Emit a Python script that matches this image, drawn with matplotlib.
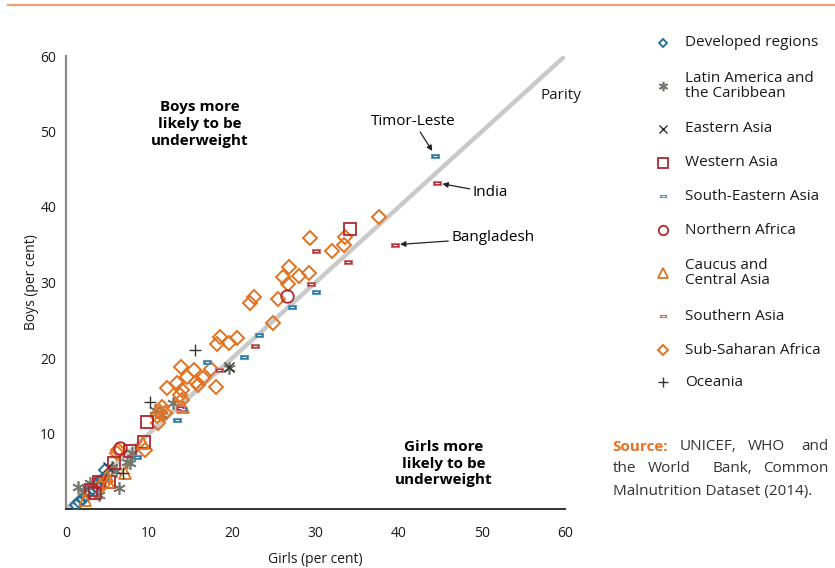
import matplotlib.pyplot as plt
from matplotlib.path import Path

plt.rcParams['font.family'] = ['Open Sans', 'DejaVu Sans']

# data: girls (x) vs boys (y), per cent underweight
dev_x = [1.2, 1.6, 2.0, 2.4, 2.8, 3.2, 3.6, 4.0, 4.4, 4.7]
dev_y = [0.5, 0.9, 1.3, 1.8, 2.3, 2.7, 3.1, 3.6, 4.0, 5.1]

lat_x = [1.4, 2.0, 2.9, 4.0, 6.4, 7.3, 7.7, 7.9, 6.0, 10.7, 11.5, 12.9, 19.6, 5.5]
lat_y = [2.9, 2.2, 3.4, 1.9, 2.8, 6.2, 6.1, 7.4, 5.0, 13.1, 12.4, 14.0, 18.7, 5.5]

eas_x = [19.6, 5.0]
eas_y = [18.8, 5.6]

wes_x = [34.1, 9.7, 9.4, 7.7, 5.8, 4.0, 3.5, 5.2, 3.0]
wes_y = [37.1, 11.5, 8.9, 7.7, 6.1, 3.6, 2.1, 3.6, 2.5]

sea_x = [44.4, 30.0, 27.2, 23.2, 21.4, 16.9, 13.3, 14.1, 8.5]
sea_y = [46.8, 28.7, 26.8, 23.0, 20.1, 19.5, 11.8, 13.2, 6.9]

naf_x = [26.6, 6.5, 4.0]
naf_y = [28.2, 8.1, 3.6]

cca_x = [14.1, 9.3, 7.1, 5.0, 4.9, 2.3]
cca_y = [13.5, 8.7, 4.8, 3.6, 4.4, 1.2]

sas_x = [44.6, 39.5, 30.0, 33.9, 29.4, 22.7, 18.4, 13.7]
sas_y = [43.2, 35.0, 34.2, 32.7, 29.8, 21.6, 18.4, 13.4]

ssa_x = [37.6, 29.3, 33.5, 33.4, 32.0, 26.8, 26.1, 28.0, 29.2, 26.7, 22.6, 22.1,
         25.5, 24.9, 18.5, 18.1, 19.6, 20.6, 17.4, 18.0, 13.8, 15.4, 14.5, 13.3,
         16.5, 12.1, 13.9, 15.9, 15.6, 13.7, 11.5, 11.3, 10.9, 11.9, 11.1, 9.5,
         6.3, 6.1, 4.4, 14.0]
ssa_y = [38.7, 35.9, 36.0, 35.0, 34.2, 32.1, 30.7, 30.9, 31.3, 29.8, 28.1, 27.3,
         27.8, 24.6, 22.8, 21.9, 22.0, 22.6, 18.5, 16.2, 18.8, 18.4, 17.5, 16.7,
         17.4, 16.0, 15.8, 16.4, 16.8, 15.1, 13.5, 12.8, 12.3, 12.7, 11.4, 7.8,
         7.8, 7.4, 3.3, 14.5]

oce_x = [15.5, 10.1, 6.9]
oce_y = [21.1, 14.2, 4.8]

labels = ['Developed regions', 'Latin America and\nthe Caribbean', 'Eastern Asia',
          'Western Asia', 'South-Eastern Asia', 'Northern Africa',
          'Caucus and\nCentral Asia', 'Southern Asia', 'Sub-Saharan Africa', 'Oceania']

BLUE = '#1f6e9a'
GREY = '#77776a'
DARK = '#333333'
RED = '#b0282e'
ORANGE = '#e2721f'

# small flat bar used for the Asia series
bar = Path([(-1, -0.45), (1, -0.45), (1, 0.45), (-1, 0.45), (-1, -0.45)])

styles = [
    dict(marker='D', ms=6, mfc='none', mec=BLUE, mew=1.3),
    dict(marker=(6, 2, 0), ms=9, mfc='none', mec=GREY, mew=1.2),
    dict(marker='x', ms=7, mfc='none', mec=DARK, mew=1.0),
    dict(marker='s', ms=9, mfc='none', mec=RED, mew=1.3),
    dict(marker=bar, ms=6, mfc=BLUE, mec='#5a9cc0', mew=0.8),
    dict(marker='o', ms=9, mfc='none', mec=RED, mew=1.3),
    dict(marker='^', ms=9, mfc='none', mec=ORANGE, mew=1.3),
    dict(marker=bar, ms=6, mfc=RED, mec='#d07070', mew=0.8),
    dict(marker='D', ms=7, mfc='none', mec=ORANGE, mew=1.4),
    dict(marker='+', ms=9, mfc='none', mec=DARK, mew=1.0),
]
series = [(dev_x, dev_y), (lat_x, lat_y), (eas_x, eas_y), (wes_x, wes_y),
          (sea_x, sea_y), (naf_x, naf_y), (cca_x, cca_y), (sas_x, sas_y),
          (ssa_x, ssa_y), (oce_x, oce_y)]
draw_order = [0, 1, 2, 8, 3, 5, 6, 9, 4, 7]

fig = plt.figure(figsize=(8.35, 5.68), dpi=100)
ax = fig.add_axes([66 / 835, 59 / 568, 499 / 835, 453 / 568])

ax.plot([0, 60], [0, 60], color='#c9c9c9', lw=3.2, solid_capstyle='round', zorder=1)
for i in draw_order:
    x, y = series[i]
    ax.plot(x, y, ls='none', zorder=3, **styles[i])
    if styles[i]['marker'] is bar:
        ax.plot(x, y, ls='none', marker='_', ms=3, mec='white', mew=0.8, zorder=4)

ax.set_xlim(0, 60)
ax.set_ylim(0, 60)
ax.set_xticks(range(0, 61, 10))
ax.set_yticks(range(10, 61, 10))
ax.tick_params(length=0, labelsize=10, colors='#1a1a1a')
ax.tick_params(axis='x', pad=12)
ax.tick_params(axis='y', pad=7)
for s in ['top', 'right']:
    ax.spines[s].set_visible(False)
ax.spines['left'].set_color('#8a8a8a')
ax.spines['left'].set_linewidth(1.6)
ax.spines['bottom'].set_color('#333333')
ax.spines['bottom'].set_linewidth(1.4)
ax.set_xlabel('Girls (per cent)', fontsize=10, labelpad=8, color='#1a1a1a')
ax.set_ylabel('Boys (per cent)', fontsize=10, labelpad=1, color='#1a1a1a')

ax.text(16.1, 51.0, 'Boys more\nlikely to be\nunderweight', ha='center', va='center',
        fontsize=11, fontweight='bold', linespacing=1.25)
ax.text(45.4, 6.0, 'Girls more\nlikely to be\nunderweight', ha='center', va='center',
        fontsize=11, fontweight='bold', linespacing=1.25)
ax.text(57.0, 54.8, 'Parity', ha='left', va='center', fontsize=11, color='#1a1a1a')

arrow = dict(arrowstyle='-|>', color='#222222', lw=0.9, mutation_scale=8,
             shrinkA=0, shrinkB=4)
ax.annotate('Timor-Leste', xy=(sea_x[0], sea_y[0]), xytext=(41.8, 51.3),
            ha='center', va='center', fontsize=11, arrowprops=arrow)
ax.annotate('India', xy=(sas_x[0], sas_y[0]), xytext=(51.0, 41.9),
            ha='center', va='center', fontsize=11, arrowprops=arrow)
ax.annotate('Bangladesh', xy=(sas_x[1], sas_y[1]), xytext=(46.3, 35.9),
            ha='left', va='center', fontsize=11, arrowprops=arrow)

# overlay in pixel coordinates for legend, source and top rule
lax = fig.add_axes([0, 0, 1, 1], zorder=-1)
lax.set_xlim(0, 835)
lax.set_ylim(568, 0)
lax.axis('off')
lax.plot([8, 835], [5, 5], color='#f2a272', lw=1.6)

leg_y = [43, 86, 129, 163, 196, 230, 273, 316, 350, 382]
for i, (lab, yy) in enumerate(zip(labels, leg_y)):
    st = dict(styles[i])
    st['ms'] = st['ms'] * 0.75
    lax.plot([663], [yy], ls='none', **st)
    if st['marker'] is bar:
        lax.plot([663], [yy], ls='none', marker='_', ms=2.5, mec='white', mew=0.7)
    lax.text(685, yy, lab, ha='left', va='center', fontsize=11, color='#1a1a1a',
             linespacing=1.05)

lax.text(612, 447, 'Source:', ha='left', va='center', fontsize=11,
         fontweight='bold', color=ORANGE)
src_words = [('UNICEF,', 680, 447), ('WHO', 748, 447), ('and', 828, 447),
             ('the', 613, 469), ('World', 648, 469), ('Bank,', 712, 469),
             ('Common', 828, 469), ('Malnutrition Dataset (2014).', 613, 491)]
for w, xx, yy in src_words:
    lax.text(xx, yy, w, ha='right' if xx > 820 else 'left', va='center',
             fontsize=11, color='#333333')

fig.savefig('out.png', dpi=100)
